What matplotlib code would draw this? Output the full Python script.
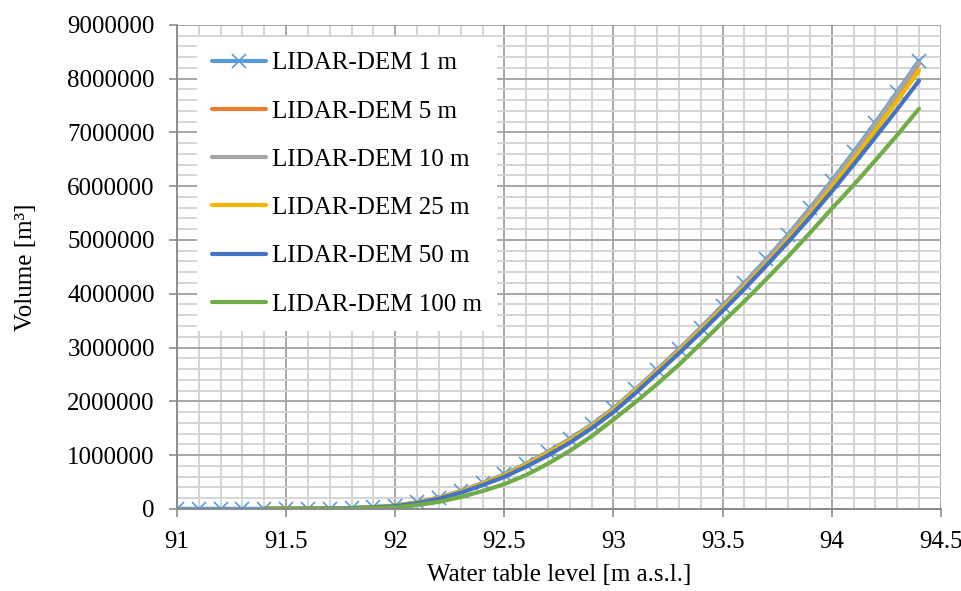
import numpy as np
import matplotlib
matplotlib.use("Agg")
import matplotlib.pyplot as plt
from matplotlib.ticker import MultipleLocator

plt.rcParams["font.family"] = ["Liberation Serif", "DejaVu Serif"]

# water table levels
levels_1m = [91.0, 91.1, 91.2, 91.3] + [round(91.4 + 0.1 * i, 1) for i in range(31)]
levels = [round(91.4 + 0.1 * i, 1) for i in range(31)]

vol_1m = [0, 0, 0, 0,
          0, 500, 2000, 6000, 15000, 32000, 60000, 120000, 210000, 330000,
          480000, 640000, 840000, 1060000, 1300000, 1570000, 1870000, 2220000,
          2590000, 2970000, 3370000, 3780000, 4200000, 4640000, 5100000,
          5590000, 6100000, 6630000, 7180000, 7750000, 8330000]
vol_5m = [0, 400, 1800, 5500, 14000, 30000, 57000, 115000, 205000, 322000,
          470000, 630000, 828000, 1046000, 1284000, 1552000, 1850000, 2198000,
          2563000, 2940000, 3336000, 3742000, 4158000, 4594000, 5050000,
          5535000, 6040000, 6565000, 7110000, 7675000, 8280000]
vol_10m = [0, 450, 1900, 5800, 14500, 31000, 58000, 117000, 207000, 325000,
           474000, 633000, 832000, 1050000, 1288000, 1556000, 1862000, 2211000,
           2580000, 2958000, 3357000, 3765000, 4183000, 4620000, 5078000,
           5565000, 6075000, 6600000, 7150000, 7720000, 8300000]
vol_25m = [0, 400, 1700, 5400, 13500, 29000, 55000, 113000, 202000, 318000,
           466000, 622000, 820000, 1035000, 1270000, 1535000, 1840000, 2190000,
           2555000, 2930000, 3320000, 3720000, 4128000, 4555000, 5005000,
           5482000, 5980000, 6495000, 7030000, 7585000, 8150000]
vol_50m = [0, 350, 1500, 4800, 12000, 26000, 50000, 104000, 188000, 300000,
           440000, 595000, 785000, 995000, 1230000, 1500000, 1800000, 2150000,
           2520000, 2890000, 3280000, 3680000, 4090000, 4520000, 4960000,
           5420000, 5900000, 6400000, 6910000, 7430000, 7960000]
vol_100m = [0, 0, 500, 2000, 6000, 15000, 30000, 70000, 130000, 220000,
            330000, 460000, 630000, 840000, 1080000, 1350000, 1660000, 1980000,
            2320000, 2680000, 3070000, 3470000, 3860000, 4270000, 4690000,
            5130000, 5580000, 6020000, 6480000, 6950000, 7440000]

series = [
    ("LIDAR-DEM 5 m", vol_5m, "#ED7D31"),
    ("LIDAR-DEM 10 m", vol_10m, "#A5A5A5"),
    ("LIDAR-DEM 25 m", vol_25m, "#F2B800"),
    ("LIDAR-DEM 50 m", vol_50m, "#4472C4"),
    ("LIDAR-DEM 100 m", vol_100m, "#70AD47"),
]

xticks = [91, 91.5, 92, 92.5, 93, 93.5, 94, 94.5]
xtick_labels = ["91", "91.5", "92", "92.5", "93", "93.5", "94", "94.5"]
yticks = list(range(0, 9000001, 1000000))

fig = plt.figure(figsize=(9.62, 5.91), dpi=100)
ax = fig.add_axes([0.184, 0.139, 0.794, 0.819])

ax.plot(levels_1m, vol_1m, color="#5B9BD5", lw=3, marker="x", ms=10,
        mew=1.2, label="LIDAR-DEM 1 m", solid_capstyle="round")
for name, vals, col in series:
    ax.plot(levels, vals, color=col, lw=3, label=name, solid_capstyle="round")

ax.set_xlim(91, 94.5)
ax.set_ylim(0, 9000000)
ax.xaxis.set_minor_locator(MultipleLocator(0.1))
ax.yaxis.set_minor_locator(MultipleLocator(200000))
ax.set_xticks(xticks)
ax.set_xticklabels(xtick_labels)
ax.set_yticks(yticks)
ax.set_yticklabels([str(v) for v in yticks])

ax.grid(which="major", color="#A6A6A6", lw=1.4)
ax.grid(which="minor", color="#D4D4D4", lw=1.4)
ax.set_axisbelow(True)
for s in ["top", "right"]:
    ax.spines[s].set_visible(False)
for s in ["left", "bottom"]:
    ax.spines[s].set_color("#8C8C8C")
    ax.spines[s].set_linewidth(1.4)
ax.tick_params(which="major", length=6, width=1.2, color="#8C8C8C",
               labelsize=18)
ax.tick_params(which="minor", length=0)
ax.tick_params(axis="y", pad=10)
ax.tick_params(axis="x", pad=10)

ax.set_xlabel("Water table level [m a.s.l.]", fontsize=18, labelpad=8)
ax.set_ylabel("Volume [m³]", fontsize=18, labelpad=22)

leg = ax.legend(loc="upper left", bbox_to_anchor=(0.026, 0.975), fontsize=18,
                frameon=True, fancybox=False, edgecolor="none",
                facecolor="white", framealpha=1, handlelength=2.15,
                handletextpad=0.25, labelspacing=1.03, borderpad=0.6,
                borderaxespad=0)

fig.savefig("out.png", dpi=100)
